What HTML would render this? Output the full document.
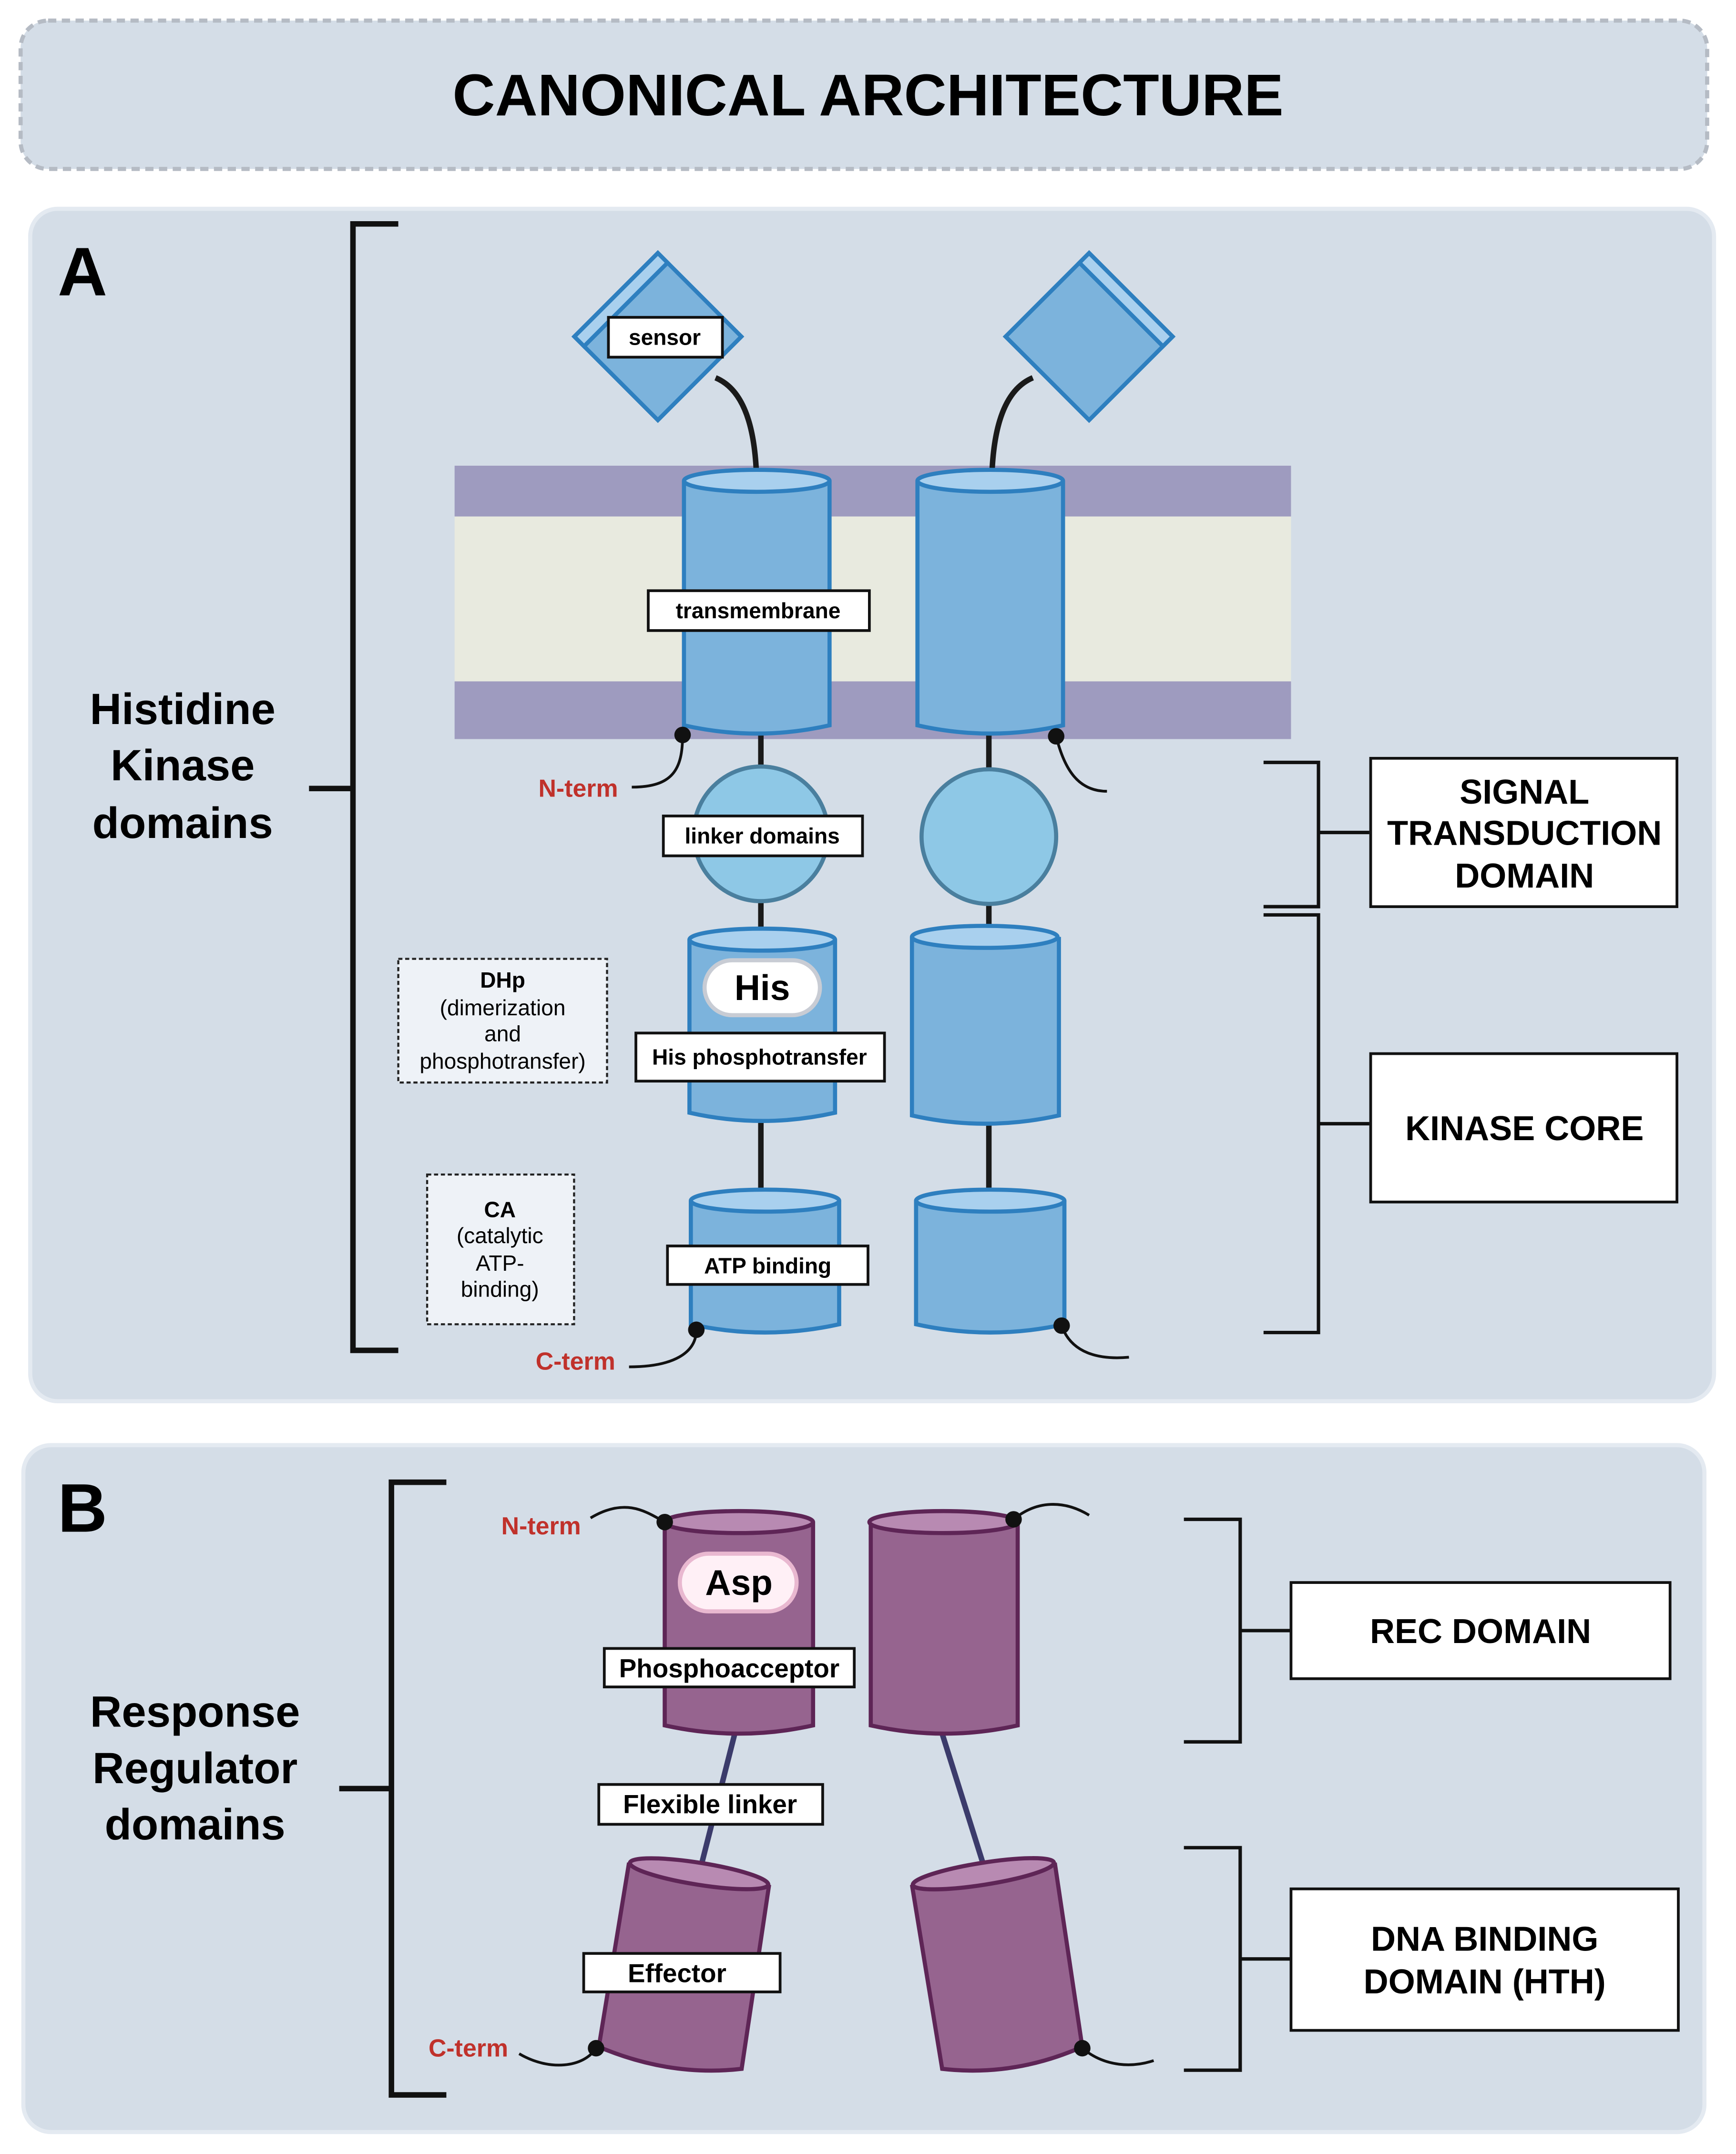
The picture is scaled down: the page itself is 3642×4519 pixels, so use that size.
<!DOCTYPE html>
<html><head><meta charset="utf-8"><style>html,body{margin:0;padding:0;background:#fff}svg{display:block}text{font-family:"Liberation Sans",sans-serif}</style></head><body>
<svg width="3642" height="4519" viewBox="0 0 1264 1568" preserveAspectRatio="none" xmlns="http://www.w3.org/2000/svg">
<rect x="0" y="0" width="1264" height="1568" fill="#fff"/>
<rect x="15" y="15" width="1228" height="108" rx="20" fill="#d4dde7" stroke="#b5bbc4" stroke-width="3" stroke-dasharray="6,4"/>
<text x="632" y="84" font-size="43" font-weight="bold" text-anchor="middle" textLength="605" lengthAdjust="spacingAndGlyphs">CANONICAL ARCHITECTURE</text>
<rect x="22" y="152" width="1226" height="868" rx="20" fill="#d4dde7" stroke="#e4eaf1" stroke-width="3"/>
<text x="42" y="215" font-size="50" font-weight="bold">A</text>
<path d="M290 163H257V983H290M225 574H257" fill="none" stroke="#111" stroke-width="4"/>
<g font-size="32" font-weight="bold" text-anchor="middle"><text x="133" y="527">Histidine</text><text x="133" y="568">Kinase</text><text x="133" y="610">domains</text></g>
<rect x="331" y="339" width="609" height="37" fill="#9e9bbf"/><rect x="331" y="376" width="609" height="120" fill="#e8eadf"/><rect x="331" y="496" width="609" height="42" fill="#9e9bbf"/>
<g stroke="#1a1a1a" stroke-width="4" fill="none">
<path d="M551 357C551 320 545 285 521 275"/><path d="M722 357C722 320 728 285 752 275"/>
<path d="M554 535V565M554 655V680M554 815V870M720 535V565M720 655V680M720 817V868"/>
</g>
<g stroke="#2e7fbf" stroke-width="3">
<g transform="rotate(-45 479 245)"><rect x="436" y="202" width="86" height="86" fill="#7cb3dc"/><rect x="436" y="202" width="86" height="10" fill="#a9d0ee"/></g>
<g transform="rotate(45 793 245)"><rect x="750" y="202" width="86" height="86" fill="#7cb3dc"/><rect x="750" y="202" width="86" height="10" fill="#a9d0ee"/></g>
<path d="M498 350V528Q551 540 604 528V350" fill="#7cb3dc"/><ellipse cx="551" cy="350" rx="53" ry="8" fill="#a9d0ee"/>
<path d="M668 350V528Q721 540 774 528V350" fill="#7cb3dc"/><ellipse cx="721" cy="350" rx="53" ry="8" fill="#a9d0ee"/>
<path d="M502 684V810Q555 822 608 810V684" fill="#7cb3dc"/><ellipse cx="555" cy="684" rx="53" ry="8" fill="#a9d0ee"/>
<path d="M664 682V812Q717 824 771 812V682" fill="#7cb3dc"/><ellipse cx="717" cy="682" rx="53" ry="8" fill="#a9d0ee"/>
<path d="M503 874V964Q557 976 611 964V874" fill="#7cb3dc"/><ellipse cx="557" cy="874" rx="54" ry="8" fill="#a9d0ee"/>
<path d="M667 874V964Q721 976 775 964V874" fill="#7cb3dc"/><ellipse cx="721" cy="874" rx="54" ry="8" fill="#a9d0ee"/>
</g>
<circle cx="554" cy="607" r="49" fill="#8ec8e6" stroke="#4a7f9e" stroke-width="3"/>
<circle cx="720" cy="609" r="49" fill="#8ec8e6" stroke="#4a7f9e" stroke-width="3"/>
<g stroke="#111" stroke-width="2" fill="#fff">
<rect x="443" y="231" width="83" height="29"/><rect x="472" y="430" width="161" height="29"/><rect x="483" y="594" width="145" height="29"/><rect x="463" y="752" width="181" height="35"/><rect x="486" y="907" width="146" height="28"/>
<rect x="998" y="552" width="223" height="108"/><rect x="998" y="767" width="223" height="108"/>
</g>
<rect x="513" y="699" width="84" height="40" rx="20" fill="#fff" stroke="#c8ccd4" stroke-width="3"/>
<g font-size="16" font-weight="bold" text-anchor="middle">
<text x="484" y="251">sensor</text><text x="552" y="450">transmembrane</text><text x="555" y="614">linker domains</text><text x="553" y="775">His phosphotransfer</text><text x="559" y="927">ATP binding</text>
</g>
<text x="555" y="728" font-size="26" font-weight="bold" text-anchor="middle">His</text>
<rect x="290" y="698" width="152" height="90" fill="#eef2f7" stroke="#222" stroke-width="1.5" stroke-dasharray="3,2"/>
<rect x="311" y="855" width="107" height="109" fill="#eef2f7" stroke="#222" stroke-width="1.5" stroke-dasharray="3,2"/>
<g font-size="16" text-anchor="middle"><text x="366" y="719" font-weight="bold">DHp</text><text x="366" y="739">(dimerization</text><text x="366" y="758">and</text><text x="366" y="778">phosphotransfer)</text>
<text x="364" y="886" font-weight="bold">CA</text><text x="364" y="905">(catalytic</text><text x="364" y="925">ATP-</text><text x="364" y="944">binding)</text></g>
<g fill="none" stroke="#111" stroke-width="2">
<path d="M460 573C490 573 497 560 497 535"/><path d="M458 995C490 995 507 985 507 968"/><path d="M769 536C775 560 785 576 806 576"/><path d="M773 965C780 985 800 990 822 988"/>
</g>
<g fill="#111"><circle cx="497" cy="535" r="6"/><circle cx="507" cy="968" r="6"/><circle cx="769" cy="536" r="6"/><circle cx="773" cy="965" r="6"/></g>
<g font-size="18" font-weight="bold" fill="#c0312b"><text x="392" y="580">N-term</text><text x="390" y="997">C-term</text></g>
<path d="M920 555H960V660H920M960 606H997M920 666H960V970H920M960 818H997" fill="none" stroke="#111" stroke-width="2.5"/>
<g font-size="25" font-weight="bold" text-anchor="middle"><text x="1110" y="585">SIGNAL</text><text x="1110" y="615">TRANSDUCTION</text><text x="1110" y="646">DOMAIN</text><text x="1110" y="830">KINASE CORE</text></g>
<rect x="17" y="1052" width="1224" height="500" rx="20" fill="#d4dde7" stroke="#e4eaf1" stroke-width="3"/>
<text x="42" y="1115" font-size="50" font-weight="bold">B</text>
<path d="M325 1079H285V1525H325M247 1302H285" fill="none" stroke="#111" stroke-width="4"/>
<g font-size="32" font-weight="bold" text-anchor="middle"><text x="142" y="1257">Response</text><text x="142" y="1298">Regulator</text><text x="142" y="1339">domains</text></g>
<g stroke="#3b3b6b" stroke-width="4"><path d="M535 1262L507 1372M686 1262L720 1370"/></g>
<g stroke="#5e2556" stroke-width="3">
<path d="M484 1108V1256Q538 1268 592 1256V1108" fill="#96648f"/><ellipse cx="538" cy="1108" rx="54" ry="8" fill="#b88ab2"/>
<path d="M634 1108V1256Q688 1268 741 1256V1108" fill="#96648f"/><ellipse cx="687" cy="1108" rx="54" ry="8" fill="#b88ab2"/>
<path d="M458 1356L436 1490Q488 1512 540 1506L560 1372" fill="#96648f"/><ellipse cx="509" cy="1364" rx="51" ry="8" transform="rotate(9 509 1364)" fill="#b88ab2"/>
<path d="M664 1372L686 1506Q738 1512 788 1490L768 1356" fill="#96648f"/><ellipse cx="716" cy="1364" rx="52" ry="8" transform="rotate(-9 716 1364)" fill="#b88ab2"/>
</g>
<rect x="495" y="1131" width="85" height="42" rx="21" fill="#fff0f6" stroke="#e9b8d0" stroke-width="3"/>
<text x="538" y="1161" font-size="26" font-weight="bold" text-anchor="middle">Asp</text>
<g stroke="#111" stroke-width="2" fill="#fff">
<rect x="440" y="1200" width="182" height="28"/><rect x="436" y="1299" width="163" height="29"/><rect x="425" y="1422" width="143" height="28"/>
<rect x="940" y="1152" width="276" height="70"/><rect x="940" y="1375" width="282" height="103"/>
</g>
<g font-size="19" font-weight="bold" text-anchor="middle"><text x="531" y="1221">Phosphoacceptor</text><text x="517" y="1320">Flexible linker</text><text x="493" y="1443">Effector</text></g>
<g fill="none" stroke="#111" stroke-width="2">
<path d="M430 1105C455 1090 470 1100 484 1108"/><path d="M738 1106C755 1092 775 1092 793 1103"/><path d="M378 1495C400 1508 425 1505 434 1491"/><path d="M788 1491C805 1505 825 1505 840 1500"/>
</g>
<g fill="#111"><circle cx="484" cy="1108" r="6"/><circle cx="738" cy="1106" r="6"/><circle cx="434" cy="1491" r="6"/><circle cx="788" cy="1491" r="6"/></g>
<g font-size="18" font-weight="bold" fill="#c0312b"><text x="365" y="1117">N-term</text><text x="312" y="1497">C-term</text></g>
<path d="M862 1106H903V1268H862M903 1187H940M862 1345H903V1507H862M903 1426H940" fill="none" stroke="#111" stroke-width="2.5"/>
<g font-size="25" font-weight="bold" text-anchor="middle"><text x="1078" y="1196">REC DOMAIN</text><text x="1081" y="1420">DNA BINDING</text><text x="1081" y="1451">DOMAIN (HTH)</text></g>
</svg>
</body></html>
